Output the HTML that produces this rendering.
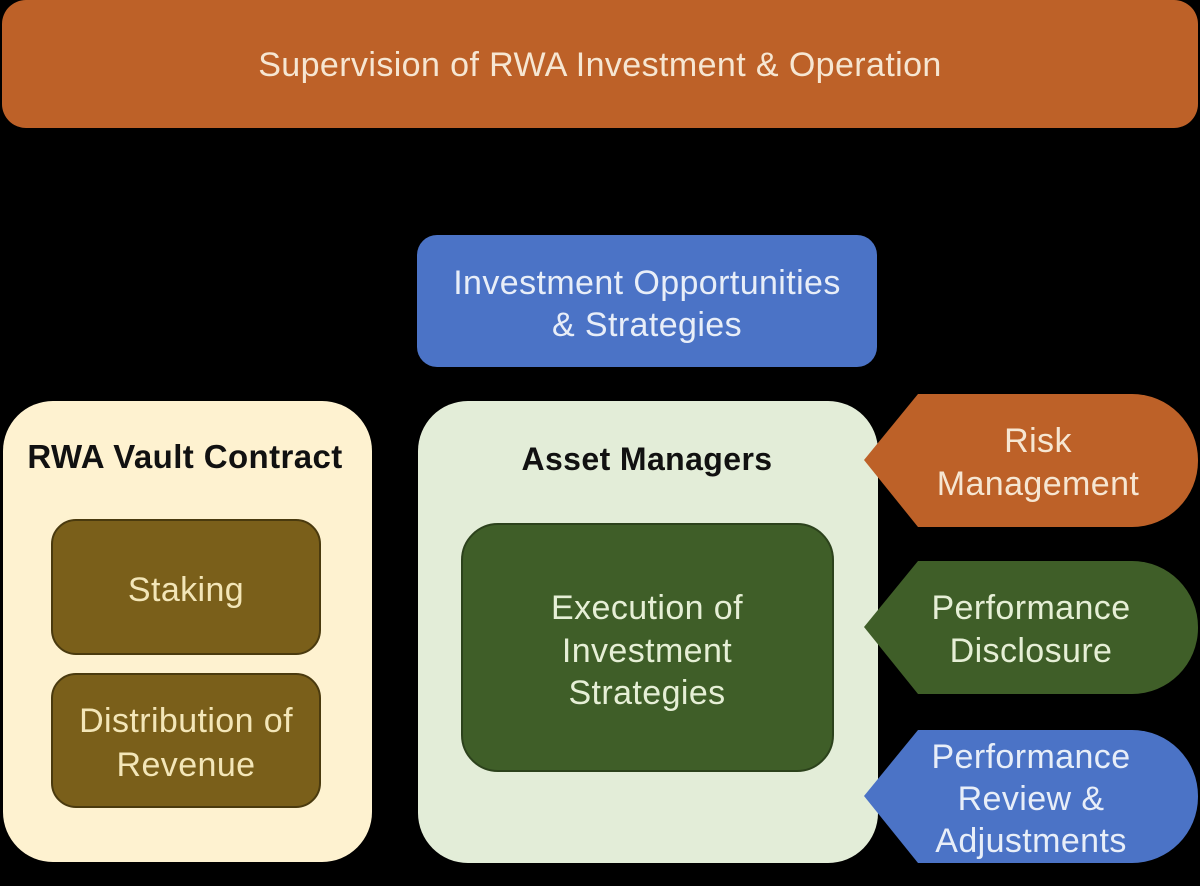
<!DOCTYPE html>
<html><head><meta charset="utf-8"><style>
html,body{margin:0;padding:0;background:#000;}
svg{display:block}
text{font-family:"Liberation Sans","DejaVu Sans",sans-serif;letter-spacing:0.4px}
</style></head><body>
<svg width="1200" height="886" viewBox="0 0 1200 886" xmlns="http://www.w3.org/2000/svg">
<rect width="1200" height="886" fill="#000"/>
<rect x="2" y="0" width="1196" height="128" rx="24" fill="#BD6128"/>
<text x="600" y="76" font-size="34" fill="#F6E6D2" text-anchor="middle">Supervision of RWA Investment &amp; Operation</text>

<rect x="417" y="235" width="460" height="132" rx="20" fill="#4B73C6"/>
<text x="647" y="294" font-size="34" fill="#E8EEF8" text-anchor="middle">Investment Opportunities</text>
<text x="647" y="336" font-size="34" fill="#E8EEF8" text-anchor="middle">&amp; Strategies</text>

<rect x="3" y="401" width="369" height="461" rx="50" fill="#FEF2D0"/>
<text x="185" y="468" font-size="33" font-weight="bold" fill="#111" text-anchor="middle">RWA Vault Contract</text>
<rect x="52" y="520" width="268" height="134" rx="24" fill="#7A5F1A" stroke="#4a3a0e" stroke-width="2"/>
<text x="186" y="601" font-size="34" fill="#F3E6B8" text-anchor="middle">Staking</text>
<rect x="52" y="674" width="268" height="133" rx="24" fill="#7A5F1A" stroke="#4a3a0e" stroke-width="2"/>
<text x="186" y="732" font-size="34" fill="#F3E6B8" text-anchor="middle">Distribution of</text>
<text x="186" y="776" font-size="34" fill="#F3E6B8" text-anchor="middle">Revenue</text>

<rect x="418" y="401" width="460" height="462" rx="50" fill="#E3EDD8"/>
<text x="647" y="470" font-size="32" font-weight="bold" fill="#111" text-anchor="middle">Asset Managers</text>
<rect x="462" y="524" width="371" height="247" rx="36" fill="#3F5E28" stroke="#2c421c" stroke-width="2"/>
<text x="647" y="619" font-size="34" fill="#E6EFD6" text-anchor="middle">Execution of</text>
<text x="647" y="662" font-size="34" fill="#E6EFD6" text-anchor="middle">Investment</text>
<text x="647" y="704" font-size="34" fill="#E6EFD6" text-anchor="middle">Strategies</text>

<path d="M918 394 H1132 A66 66 0 0 1 1198 460 V461 A66 66 0 0 1 1132 527 H918 L864 460 Z" fill="#BD6128"/>
<text x="1038" y="452" font-size="34" fill="#F6E6D2" text-anchor="middle">Risk</text>
<text x="1038" y="495" font-size="34" fill="#F6E6D2" text-anchor="middle">Management</text>

<path d="M918 561 H1132 A66 66 0 0 1 1198 627 V628 A66 66 0 0 1 1132 694 H918 L864 627 Z" fill="#3F5E28"/>
<text x="1031" y="619" font-size="34" fill="#E6EFD6" text-anchor="middle">Performance</text>
<text x="1031" y="662" font-size="34" fill="#E6EFD6" text-anchor="middle">Disclosure</text>

<path d="M918 730 H1132 A66 66 0 0 1 1198 796 V797 A66 66 0 0 1 1132 863 H918 L864 796 Z" fill="#4B73C6"/>
<text x="1031" y="768" font-size="34" fill="#E8EEF8" text-anchor="middle">Performance</text>
<text x="1031" y="810" font-size="34" fill="#E8EEF8" text-anchor="middle">Review &amp;</text>
<text x="1031" y="852" font-size="34" fill="#E8EEF8" text-anchor="middle">Adjustments</text>
</svg>
</body></html>
